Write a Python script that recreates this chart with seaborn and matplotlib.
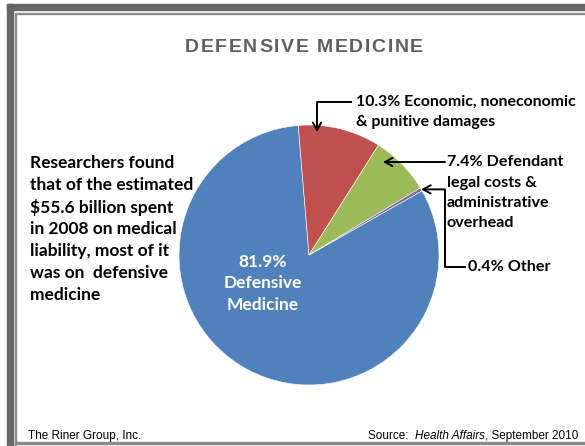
import matplotlib
matplotlib.use("Agg")
import matplotlib.pyplot as plt
from matplotlib.lines import Line2D
from matplotlib.patches import Rectangle
from matplotlib.text import Annotation
import seaborn as sns
import numpy as np

# Shares of medical liability spending, 2008
categories = ["Defensive Medicine",
              "Economic, noneconomic & punitive damages",
              "Defendant legal costs & administrative overhead",
              "Other"]
shares = [81.9, 10.3, 7.4, 0.4]
colors = ["#4F81BD", "#C0504D", "#9BBB59", "#8064A2"]

title = "DEFENSIVE MEDICINE"
note_lines = ["Researchers found", "that of the estimated", "$55.6 billion spent",
              "in 2008 on medical", "liability, most of it", "was on  defensive",
              "medicine"]
damages_lines = ["10.3% Economic, noneconomic", "& punitive damages"]
legal_lines = ["7.4% Defendant", "legal costs &", "administrative", "overhead"]
other_label = "0.4% Other"
center_lines = ["81.9%", "Defensive", "Medicine"]
footer_left = "The Riner Group, Inc."

sns.set_theme(style="white")
plt.rcParams["font.family"] = ["Lato", "DejaVu Sans"]

W, H = 585, 446
fig = plt.figure(figsize=(W / 100, H / 100), dpi=100)
fig.patch.set_facecolor("white")


def fx(x):
    return x / W


def fy(y):
    return 1 - y / H


# slide frame: heavy band on the left and top, thin inner rules
frame = [
    Rectangle((fx(7), fy(446)), 6 / W, 442 / H, color="#676767"),
    Rectangle((fx(7), fy(10)), (W - 7) / W, 6 / H, color="#676767"),
    Rectangle((fx(15), fy(446)), 1.3 / W, 432 / H, color="#8a8a8a"),
    Rectangle((fx(15), fy(14)), (W - 15) / W, 1.5 / H, color="#8a8a8a"),
    Rectangle((fx(15), fy(443.5)), (W - 15) / W, 1.5 / H, color="#8a8a8a"),
]
for r in frame:
    r.set_transform(fig.transFigure)
    fig.patches.append(r)

# pie
cx, cy, rad = 309, 255, 130
ax = fig.add_axes([fx(cx - rad), fy(cy + rad), 2 * rad / W, 2 * rad / H])
wedges, _ = ax.pie(shares, colors=colors, startangle=29.6, counterclock=False,
                   radius=1.0,
                   wedgeprops=dict(edgecolor="white", linewidth=0.4))
ax.set_xlim(-1, 1)
ax.set_ylim(-1, 1)
ax.set_aspect("equal")
ax.axis("off")

# letter-spaced title
renderer = fig.canvas.get_renderer()
title_kw = dict(family=["Liberation Sans"], fontsize=14, fontweight="bold",
                color="#5f5f5f", va="center", ha="left")
tracking = 1.6
glyphs = [fig.text(0, fy(47), ch, **title_kw) for ch in title]
widths = []
for g, ch in zip(glyphs, title):
    if ch == " ":
        g.set_text("i")
        widths.append(g.get_window_extent(renderer).width * 1.0)
        g.set_text("")
    else:
        widths.append(g.get_window_extent(renderer).width)
total = sum(widths) + tracking * (len(title) - 1)
x = 304 - total / 2
for g, wdt in zip(glyphs, widths):
    g.set_x(fx(x))
    x += wdt + tracking

for i, line in enumerate(note_lines):
    fig.text(fx(30), fy(163 + i * 22), line, ha="left", va="center",
             fontsize=12.5, fontweight="bold", color="black")

for i, line in enumerate(center_lines):
    fig.text(fx(263), fy(262 + i * 21.5), line, ha="center", va="center",
             fontsize=12.5, fontweight="bold", color="white")

for i, line in enumerate(damages_lines):
    fig.text(fx(356), fy(102 + i * 20), line, ha="left", va="center",
             fontsize=11.4, fontweight="bold", color="black")

for i, line in enumerate(legal_lines):
    fig.text(fx(447), fy(162 + i * 20.5), line, ha="left", va="center",
             fontsize=11.6, fontweight="bold", color="black")

fig.text(fx(468), fy(267), other_label, ha="left", va="center",
         fontsize=11.6, fontweight="bold", color="black")

# leader lines
lw = 1.4
arrow = dict(arrowstyle="->,head_length=0.45,head_width=0.25", color="black",
             lw=lw, shrinkA=0, shrinkB=0)


def polyline(pts):
    xs = [fx(p[0]) for p in pts]
    ys = [fy(p[1]) for p in pts]
    fig.lines.append(Line2D(xs, ys, transform=fig.transFigure, color="black",
                            lw=lw, solid_capstyle="butt"))


def arrow_to(start, end):
    fig.add_artist(Annotation(
        "", xy=(fx(end[0]), fy(end[1])), xytext=(fx(start[0]), fy(start[1])),
        xycoords=fig.transFigure, textcoords=fig.transFigure, arrowprops=arrow))


# damages wedge
polyline([(352, 102), (317, 102)])
arrow_to((317, 102), (317, 132))
# legal costs wedge
arrow_to((445, 162), (383, 162))
# other wedge: point at the outer edge of its sliver
w = wedges[3]
mid = np.deg2rad((w.theta1 + w.theta2) / 2)
tip_disp = ax.transData.transform((np.cos(mid), np.sin(mid)))
tx, ty = tip_disp[0], H - tip_disp[1]
polyline([(466, 267), (445, 267), (445, ty)])
arrow_to((445, ty), (tx, ty))

fig.text(fx(28), fy(436), footer_left, ha="left", va="center",
         family=["Liberation Sans"], fontsize=8.5, color="black")
src = fig.text(fx(578), fy(436), ", September 2010", ha="right", va="center",
               family=["Liberation Sans"], fontsize=8.5, color="black")
fig.canvas.draw()
bb = src.get_window_extent()
ha = fig.text(bb.x0 / W, fy(436), "Health Affairs", ha="right", va="center",
              family=["Liberation Sans"], fontsize=8.5, style="italic",
              color="black")
fig.canvas.draw()
bb2 = ha.get_window_extent()
fig.text(bb2.x0 / W, fy(436), "Source:  ", ha="right", va="center",
         family=["Liberation Sans"], fontsize=8.5, color="black")

fig.savefig("out.png", dpi=100)
